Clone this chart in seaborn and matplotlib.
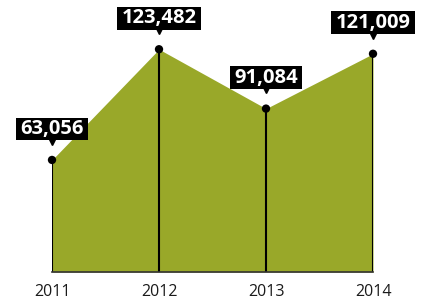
import numpy as np
import pandas as pd
import seaborn as sns
import matplotlib.pyplot as plt
from matplotlib.path import Path
from matplotlib.transforms import offset_copy

# values
years = [2011, 2012, 2013, 2014]
values = [63056, 123482, 91084, 121009]
labels = ["63,056", "123,482", "91,084", "121,009"]

df = pd.DataFrame({"year": years, "value": values})


def label_box(x0, y0, width, height, mutation_size):
    # wider padding left/right than top/bottom
    px, py = 0.2 * mutation_size, 0.07 * mutation_size
    x0, y0 = x0 - px, y0 - py
    x1, y1 = x0 + width + 2 * px, y0 + height + 2 * py
    return Path([(x0, y0), (x1, y0), (x1, y1), (x0, y1), (x0, y0)], closed=True)


sns.set_style("white")
fig = plt.figure(figsize=(4.29, 3.03), dpi=100)
ax = fig.add_axes([52 / 429, 31 / 303, 321 / 429, 262 / 303])

y0 = 1900
ax.fill_between(df["year"], y0, df["value"], color="#99a829", lw=0, zorder=1)
ax.vlines(df["year"], y0, df["value"], color="black", lw=1.5, zorder=2)
sns.scatterplot(data=df, x="year", y="value", color="black", s=36,
                edgecolor="none", zorder=3, ax=ax, clip_on=False)

tri = offset_copy(ax.transData, fig=fig, y=13.8, units="points")
ax.plot(df["year"], df["value"], ls="none", marker="v", ms=6.2, color="black",
        transform=tri, clip_on=False, zorder=4)
for yr, v, lab in zip(years, values, labels):
    ax.annotate(lab, (yr, v), xytext=(0, 22.3), textcoords="offset points",
                ha="center", va="center", color="white", fontsize=14.5,
                fontweight="bold", family="Open Sans", zorder=5,
                bbox=dict(boxstyle=label_box, fc="black", ec="none"))

ax.set_xlim(2011, 2014)
ax.set_ylim(y0, 144900)
ax.set_xticks(years)
ax.set_xticklabels([str(y) for y in years], family="Open Sans", fontsize=11.5,
                   color="#1a1a1a")
ax.set_yticks([])
ax.tick_params(axis="x", length=0, pad=9)
ax.set_xlabel("")
ax.set_ylabel("")
for s in ["top", "left", "right"]:
    ax.spines[s].set_visible(False)
ax.spines["bottom"].set_color("#333333")
ax.spines["bottom"].set_linewidth(1.2)
ax.spines["bottom"].set_zorder(2)

fig.savefig("out.png", dpi=100)
